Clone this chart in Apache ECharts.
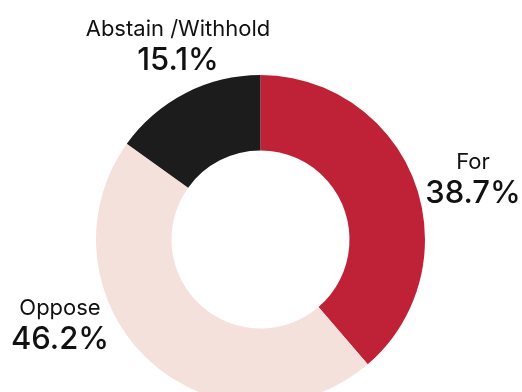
<!DOCTYPE html>
<html>
<head>
<meta charset="utf-8">
<script src="https://cdn.jsdelivr.net/npm/echarts@6/dist/echarts.min.js"></script>
<style>
html,body{margin:0;padding:0;background:#fff;}
#chart{width:522px;height:392px;}
</style>
</head>
<body>
<div id="chart"></div>
<script>
const categories = ['For', 'Oppose', 'Abstain /Withhold'];
const values = [38.7, 46.2, 15.1];
const valueLabels = ['38.7%', '46.2%', '15.1%'];
const colors = ['#BF2237', '#F5E1DB', '#1C1C1C'];

const labelSpots = [
  { x: 473, y: 149 },
  { x: 60, y: 295 },
  { x: 178, y: 16 }
];

const chart = echarts.init(document.getElementById('chart'), null, { renderer: 'canvas' });
chart.setOption({
  animation: false,
  backgroundColor: '#ffffff',
  series: [{
    type: 'pie',
    center: [260.5, 239.5],
    radius: [89, 164.5],
    startAngle: 90,
    clockwise: true,
    silent: true,
    avoidLabelOverlap: false,
    data: categories.map((c, i) => ({
      name: c,
      value: values[i],
      itemStyle: { color: colors[i] },
      label: { formatter: '{n|' + c + '}\n{v|' + valueLabels[i] + '}' }
    })),
    label: {
      show: true,
      position: 'outside',
      overflow: 'none',
      color: '#111',
      fontFamily: 'Inter',
      rich: {
        n: { fontSize: 22, fontWeight: 400, lineHeight: 26, fontFamily: 'Inter', color: '#111', align: 'center' },
        v: { fontSize: 31, fontWeight: 500, lineHeight: 38, fontFamily: 'Inter', color: '#111', align: 'center' }
      }
    },
    labelLine: { show: false },
    labelLayout: function (p) {
      const s = labelSpots[p.dataIndex];
      return { x: s.x, y: s.y, align: 'center', verticalAlign: 'top' };
    }
  }]
});
</script>
</body>
</html>
